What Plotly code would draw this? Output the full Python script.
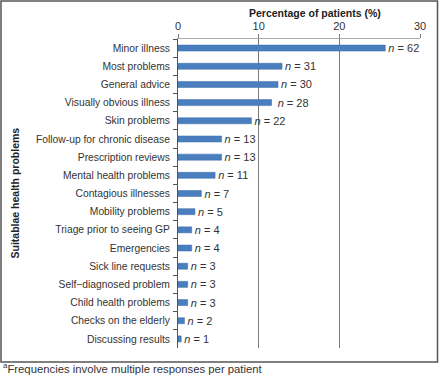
import plotly.graph_objects as go

categories = [
    "Minor illness", "Most problems", "General advice", "Visually obvious illness",
    "Skin problems", "Follow-up for chronic disease", "Prescription reviews",
    "Mental health problems", "Contagious illnesses", "Mobility problems",
    "Triage prior to seeing GP", "Emergencies", "Sick line requests",
    "Self\u2212diagnosed problem", "Child health problems", "Checks on the elderly",
    "Discussing results",
]
percentages = [25.7, 12.9, 12.4, 11.6, 9.1, 5.4, 5.4, 4.6, 2.9, 2.1, 1.7, 1.7, 1.2, 1.2, 1.2, 0.8, 0.4]
counts = [62, 31, 30, 28, 22, 13, 13, 11, 7, 5, 4, 4, 3, 3, 3, 2, 1]
x_ticks = [0, 10, 20, 30]

FONT = "Liberation Sans, Arial, sans-serif"
W, H = 440, 375
L, R, T, B = 178, 20, 39, 27
pw, ph = W - L - R, H - T - B

def px(x):
    return (x - L) / pw

def py(y):
    return (H - B - y) / ph

fig = go.Figure()
fig.add_trace(go.Bar(
    y=categories, x=percentages, orientation="h",
    width=0.33,
    marker=dict(color="#4a7ebf", line=dict(color="#3b6aa6", width=0.5)),
    text=[f"\u00a0<i>n</i> = {c}" for c in counts],
    textposition="outside", constraintext="none", cliponaxis=False,
    textfont=dict(family=FONT, size=11, color="#333"),
    hoverinfo="skip",
))

fig.update_layout(
    width=W, height=H,
    margin=dict(l=L, r=R, t=T, b=B),
    paper_bgcolor="white", plot_bgcolor="white",
    showlegend=False,
    font=dict(family=FONT, color="#333"),
    xaxis=dict(
        side="top", range=[0, 30], tickvals=x_ticks,
        showgrid=True, gridcolor="#7a7a7a", gridwidth=1,
        showline=True, linecolor="#aaaaaa", linewidth=1,
        ticks="outside", ticklen=4, tickcolor="#7a7a7a",
        tickfont=dict(size=11, color="#333"), zeroline=False,
        fixedrange=True,
    ),
    yaxis=dict(
        autorange="reversed", tickson="boundaries",
        ticks="outside", ticklen=4, tickcolor="#555",
        showline=True, linecolor="#555", linewidth=1,
        tickfont=dict(size=10.3, color="#333"), ticklabelstandoff=5,
        showgrid=False, fixedrange=True,
    ),
    annotations=[
        dict(text="<b>Percentage of patients (%)</b>", xref="paper", yref="paper",
             x=px(315), y=py(13), xanchor="center", yanchor="middle", showarrow=False,
             font=dict(size=10.5, color="#222")),
        dict(text="<b>Suitablae health problems</b>", xref="paper", yref="paper",
             x=px(14), y=0.5, xanchor="center", yanchor="middle", textangle=-90,
             showarrow=False, font=dict(size=10.5, color="#222")),
        dict(text="<sup>a</sup>Frequencies involve multiple responses per patient",
             xref="paper", yref="paper", x=px(1), y=py(368), xanchor="left",
             yanchor="middle", showarrow=False, font=dict(size=11.3, color="#333")),
    ],
    shapes=[
        dict(type="rect", xref="paper", yref="paper",
             x0=px(1), x1=px(437.5), y0=py(362), y1=py(1),
             line=dict(color="#555", width=1.5), fillcolor="rgba(0,0,0,0)"),
    ],
)

fig.write_html(
    "out.html",
    config={"displayModeBar": False},
    post_script="document.body.style.margin='0';document.body.style.overflow='hidden';",
)
